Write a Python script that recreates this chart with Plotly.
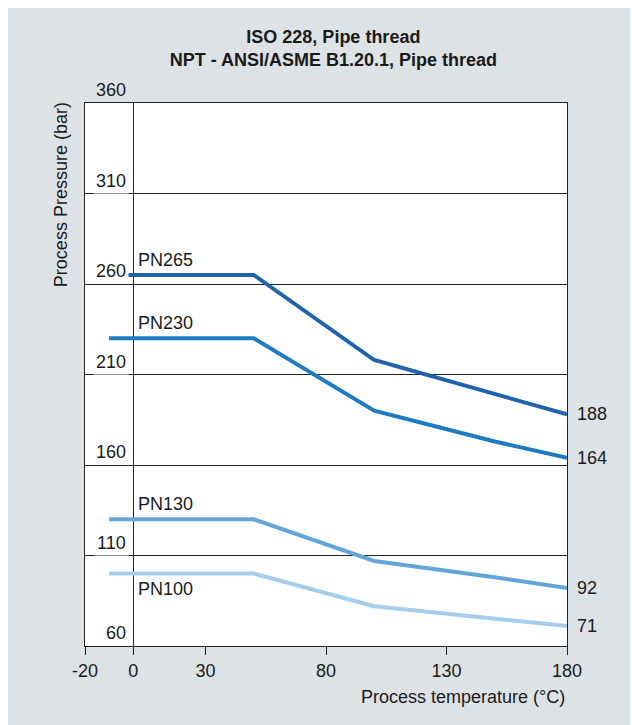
import plotly.graph_objects as go

# ---- data ----
temps = [-10, 50, 100, 150, 180]
series_names = ["PN265", "PN230", "PN130", "PN100"]
pn265 = [265, 265, 218, 199, 188]
pn230 = [230, 230, 190, 173, 164]
pn130 = [130, 130, 107, 98, 92]
pn100 = [100, 100, 82, 75, 71]
x_ticks = [-20, 0, 30, 80, 130, 180]
y_ticks = [60, 110, 160, 210, 260, 310, 360]

series_values = [pn265, pn230, pn130, pn100]
colors = ["#1f62ad", "#1e7bc2", "#62a6da", "#a6cdeb"]
label_below = [False, False, False, True]

FONT = "Arial, Liberation Sans, sans-serif"
FS = 18
TXT = "#1a1a1a"
BG = "#dde2e6"

fig = go.Figure()
for name, vals, col in zip(series_names, series_values, colors):
    fig.add_trace(go.Scatter(x=temps, y=vals, mode="lines", name=name,
                             line=dict(color=col, width=4), showlegend=False,
                             hoverinfo="skip"))

annotations = []
# y tick labels placed above gridlines, left of the 0 line
for v in y_ticks:
    inside = v < max(y_ticks)
    annotations.append(dict(
        x=0, y=v, xref="x", yref="y", text=str(v), showarrow=False,
        xanchor="right", yanchor="bottom", xshift=-4, yshift=0,
        font=dict(family=FONT, size=FS, color=TXT),
        bgcolor="white" if inside else None, borderpad=2))

# series labels
for name, vals, below in zip(series_names, series_values, label_below):
    annotations.append(dict(
        x=0, y=vals[0], xref="x", yref="y", text=name, showarrow=False,
        xanchor="left", yanchor="top" if below else "bottom",
        xshift=3, yshift=-3 if below else 3,
        font=dict(family=FONT, size=FS, color=TXT)))

# end value labels
for vals in series_values:
    annotations.append(dict(
        x=temps[-1], y=vals[-1], xref="x", yref="y", text=str(vals[-1]),
        showarrow=False, xanchor="left", yanchor="middle", xshift=8,
        font=dict(family=FONT, size=FS, color=TXT)))

# axis titles
annotations.append(dict(
    x=1, y=-0.094, xref="paper", yref="paper", text="Process temperature (°C)",
    showarrow=False, xanchor="right", yanchor="middle", xshift=0,
    font=dict(family=FONT, size=FS, color=TXT)))
annotations.append(dict(
    x=-0.05, y=1.006, xref="paper", yref="paper", text="Process Pressure (bar)",
    showarrow=False, xanchor="center", yanchor="top", textangle=-90,
    font=dict(family=FONT, size=FS, color=TXT)))

fig.update_layout(
    width=638, height=725,
    paper_bgcolor=BG, plot_bgcolor="white",
    margin=dict(l=77, r=79, t=95, b=87),
    title=dict(text="<b>ISO 228, Pipe thread<br>NPT - ANSI/ASME B1.20.1, Pipe thread</b>",
               x=0.51, xanchor="center", y=0.952, yanchor="top",
               font=dict(family=FONT, size=FS, color=TXT)),
    annotations=annotations,
    xaxis=dict(range=[-20, 180], tickvals=x_ticks, ticktext=[str(t) for t in x_ticks],
               showgrid=False, zeroline=True, zerolinecolor="#222", zerolinewidth=1,
               showline=True, linecolor="#222", linewidth=1, mirror=True,
               ticks="outside", ticklen=8, tickcolor="#222", tickwidth=1,
               tickfont=dict(family=FONT, size=FS, color=TXT), fixedrange=True),
    yaxis=dict(range=[60, 360], tickvals=y_ticks, showticklabels=False,
               showgrid=True, gridcolor="#222", gridwidth=1, zeroline=False,
               showline=True, linecolor="#222", linewidth=1, mirror=True,
               ticks="", fixedrange=True),
)

fig.write_html("out.html")
